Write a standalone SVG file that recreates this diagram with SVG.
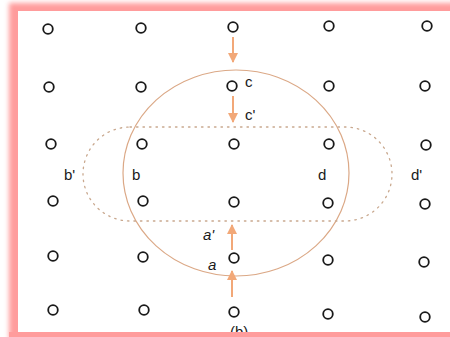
<svg xmlns="http://www.w3.org/2000/svg" width="450" height="337" viewBox="0 0 450 337">
<defs>
<filter id="blur" x="-5%" y="-5%" width="110%" height="110%"><feGaussianBlur stdDeviation="2.5"/></filter>
<marker id="ah" viewBox="0 0 10 10" refX="9" refY="5" markerWidth="5" markerHeight="5" orient="auto" markerUnits="strokeWidth"><path d="M0,0 L10,5 L0,10 Z" fill="#f2a878"/></marker>
</defs>
<style>
.dot{fill:none;stroke:#1a1a1a;stroke-width:1.8}
.lbl{font-family:"Liberation Sans",Arial,sans-serif;font-size:15px;fill:#1a1a1a}
.arr{stroke:#f2a878;stroke-width:2;fill:none;marker-end:url(#ah)}
</style>
<rect width="450" height="337" fill="#fff"/>
<rect x="9" y="3" width="460" height="337" fill="#ff9c9c" filter="url(#blur)"/>
<rect x="18" y="11" width="440" height="321" fill="#fff"/>

<g id="lattice">
<circle class="dot" cx="48" cy="29" r="4.8"/><circle class="dot" cx="141" cy="28" r="4.8"/><circle class="dot" cx="233" cy="27" r="4.8"/><circle class="dot" cx="329" cy="26" r="4.8"/><circle class="dot" cx="427" cy="26" r="4.8"/>
<circle class="dot" cx="49" cy="87" r="4.8"/><circle class="dot" cx="141" cy="87" r="4.8"/><circle class="dot" cx="232" cy="86" r="4.8"/><circle class="dot" cx="329" cy="86" r="4.8"/><circle class="dot" cx="425" cy="86" r="4.8"/>
<circle class="dot" cx="51" cy="144" r="4.8"/><circle class="dot" cx="142" cy="144" r="4.8"/><circle class="dot" cx="234" cy="144" r="4.8"/><circle class="dot" cx="329" cy="144" r="4.8"/><circle class="dot" cx="426" cy="145" r="4.8"/>
<circle class="dot" cx="53" cy="201" r="4.8"/><circle class="dot" cx="143" cy="201" r="4.8"/><circle class="dot" cx="234" cy="202" r="4.8"/><circle class="dot" cx="328" cy="203" r="4.8"/><circle class="dot" cx="425" cy="204" r="4.8"/>
<circle class="dot" cx="53" cy="256" r="4.8"/><circle class="dot" cx="143" cy="257" r="4.8"/><circle class="dot" cx="234" cy="258" r="4.8"/><circle class="dot" cx="328" cy="260" r="4.8"/><circle class="dot" cx="424" cy="262" r="4.8"/>
<circle class="dot" cx="53" cy="310" r="4.8"/><circle class="dot" cx="144" cy="310" r="4.8"/><circle class="dot" cx="234" cy="312" r="4.8"/><circle class="dot" cx="328" cy="314" r="4.8"/><circle class="dot" cx="425" cy="317" r="4.8"/>
</g>

<g id="circle">
<ellipse cx="236" cy="173" rx="113" ry="103" fill="none" stroke="#dba886" stroke-width="1.2"/>
</g>

<g id="dotted-region">
<path d="M130,127 H345 A47,47 0 0 1 345,221 H130 A47,47 0 0 1 130,127 Z" fill="none" stroke="#c9a88e" stroke-width="1.3" stroke-dasharray="1.5 5" stroke-linecap="round"/>
</g>

<g id="connectors">
<line class="arr" x1="233" y1="37" x2="233" y2="62"/>
<line class="arr" x1="233" y1="96" x2="233" y2="122"/>
<line class="arr" x1="232" y1="250" x2="232" y2="225"/>
<line class="arr" x1="232" y1="297" x2="232" y2="271"/>
</g>

<g id="labels">
<text class="lbl" x="245" y="87">c</text>
<text class="lbl" x="245" y="120">c'</text>
<text class="lbl" x="203" y="240" font-style="italic">a'</text>
<text class="lbl" x="208" y="270" font-style="italic">a</text>
<text class="lbl" x="64" y="180">b'</text>
<text class="lbl" x="132" y="180">b</text>
<text class="lbl" x="318" y="180">d</text>
<text class="lbl" x="411" y="180">d'</text>
<text class="lbl" x="230" y="337">(b)</text>
</g>

<rect x="9" y="332" width="460" height="10" fill="#ff9c9c"/>
</svg>
